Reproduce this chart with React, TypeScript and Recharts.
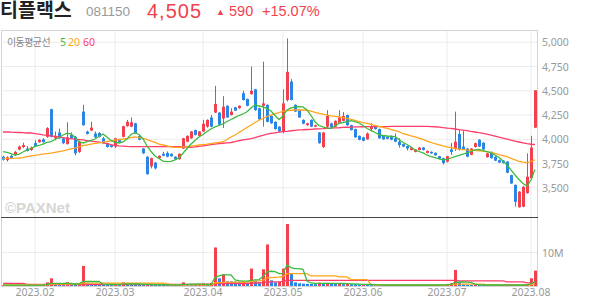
import React from 'react';
import { ComposedChart, Bar, Line, XAxis, YAxis, CartesianGrid } from 'recharts';

const UP = '#f2414d';
const DOWN = '#2b85e6';
const C_MA5 = '#3dbb3d';
const C_MA20 = '#ffa41c';
const C_MA60 = '#ff3d68';
const FONT = "'Noto Sans', sans-serif";
const KFONT = "'Noto Sans CJK KR', sans-serif";
const LFONT = "'Liberation Sans', 'Noto Sans CJK KR', sans-serif";

const MONTH_IDX = [8, 28, 50, 70, 90, 111, 132];
const MONTH_LABELS = ['2023.02', '2023.03', '2023.04', '2023.05', '2023.06', '2023.07', '2023.08'];
const PRICE_TICKS = [3500, 3750, 4000, 4250, 4500, 4750, 5000];
const VOL_TICKS = [10];

const OPEN = [
  3820, 3785, 3830, 3840, 3895, 3920, 3905, 3890, 3960, 3970,
  4000, 4025, 4310, 4010, 4070, 4010, 3950, 4045, 4025, 3870,
  4285, 4080, 4090, 4060, 4065, 4010, 3960, 3940, 3925, 4000,
  4025, 4135, 4130, 4165, 4035, 3905, 3820, 3720, 3760, 3805,
  3850, 3860, 3850, 3820, 3795, 3905, 3975, 4010, 4095, 4035,
  4080, 4130, 4225, 4275, 4275, 4215, 4345, 4250, 4330, 4320,
  4475, 4415, 4465, 4515, 4320, 4345, 4355, 4240, 4180, 4130,
  4075, 4405, 4595, 4355, 4300, 4200, 4145, 4200, 4130, 4070,
  3920, 4130, 4165, 4130, 4170, 4190, 4250, 4145, 4105, 4035,
  4020, 4000, 4105, 4135, 4105, 4035, 4025, 4035, 4010, 3975,
  3950, 3930, 3890, 3870, 3890, 3915, 3860, 3870, 3860, 3825,
  3805, 3770, 3895, 3905, 4055, 3925, 3905, 3840, 3920, 3995,
  3965, 3815, 3870, 3820, 3785, 3780, 3770, 3630, 3530, 3300,
  3305, 3445, 3600, 4120,
];
const HIGH = [
  3830, 3825, 3840, 3880, 3935, 3965, 3930, 3925, 3990, 4000,
  4010, 4125, 4315, 4080, 4110, 4020, 4175, 4070, 4035, 3985,
  4355, 4090, 4180, 4080, 4075, 4025, 3965, 3945, 4015, 4005,
  4140, 4200, 4225, 4170, 4045, 3910, 3825, 3810, 3765, 3835,
  3870, 3875, 3855, 3825, 3855, 4015, 4040, 4085, 4100, 4085,
  4200, 4205, 4250, 4550, 4280, 4445, 4350, 4320, 4335, 4350,
  4500, 4420, 4750, 4520, 4325, 4800, 4360, 4245, 4185, 4135,
  4515, 5040, 4620, 4360, 4305, 4205, 4170, 4205, 4150, 4075,
  4075, 4300, 4170, 4195, 4300, 4280, 4255, 4150, 4110, 4040,
  4025, 4070, 4165, 4140, 4110, 4040, 4030, 4040, 4060, 4010,
  3955, 3935, 3920, 3900, 3920, 3920, 3885, 3875, 3865, 3830,
  3810, 3830, 3960, 4285, 4095, 4085, 3910, 3910, 3965, 4000,
  3970, 3860, 3875, 3825, 3790, 3785, 3775, 3635, 3535, 3465,
  3520, 3855, 4035, 4505,
];
const LOW = [
  3780, 3770, 3795, 3830, 3885, 3910, 3875, 3880, 3920, 3965,
  3965, 4015, 4020, 3990, 4005, 3950, 3945, 4000, 3835, 3860,
  4140, 4050, 4085, 4015, 4020, 3955, 3915, 3915, 3910, 3960,
  4020, 4130, 4125, 4055, 3990, 3850, 3635, 3700, 3690, 3800,
  3825, 3815, 3820, 3790, 3790, 3900, 3970, 4005, 4040, 4030,
  4075, 4120, 4125, 4270, 4145, 4115, 4220, 4245, 4290, 4315,
  4400, 4340, 4460, 4295, 4200, 4130, 4175, 4160, 4100, 4075,
  4060, 4390, 4400, 4280, 4220, 4155, 4140, 4125, 4125, 3955,
  3910, 4110, 4120, 4125, 4165, 4185, 4140, 4090, 4015, 3990,
  3980, 3995, 4080, 4100, 4005, 3995, 4000, 3990, 3970, 3915,
  3920, 3885, 3885, 3865, 3885, 3885, 3855, 3850, 3830, 3795,
  3740, 3760, 3840, 3880, 3885, 3890, 3815, 3835, 3915, 3920,
  3890, 3810, 3800, 3775, 3755, 3750, 3650, 3540, 3305, 3295,
  3300, 3440, 3595, 4115,
];
const CLOSE = [
  3790, 3815, 3800, 3870, 3925, 3940, 3880, 3915, 3930, 3995,
  3970, 4115, 4025, 4035, 4010, 3960, 4020, 4010, 3855, 3975,
  4145, 4055, 4120, 4020, 4025, 3960, 3920, 3920, 4010, 3965,
  4135, 4180, 4175, 4060, 3995, 3855, 3640, 3805, 3700, 3830,
  3830, 3820, 3825, 3795, 3850, 4010, 4035, 4080, 4045, 4080,
  4160, 4200, 4130, 4365, 4150, 4335, 4225, 4285, 4295, 4345,
  4405, 4345, 4500, 4300, 4205, 4370, 4180, 4165, 4105, 4080,
  4370, 4695, 4405, 4285, 4225, 4160, 4165, 4130, 4145, 3960,
  4070, 4240, 4125, 4190, 4225, 4240, 4145, 4095, 4020, 3995,
  3985, 4060, 4135, 4105, 4010, 4000, 4005, 3995, 3975, 3940,
  3925, 3905, 3915, 3895, 3915, 3890, 3880, 3855, 3835, 3800,
  3755, 3825, 3870, 3975, 3890, 3895, 3820, 3905, 3960, 3925,
  3895, 3855, 3805, 3780, 3760, 3755, 3655, 3545, 3355, 3460,
  3510, 3615, 3915, 4505,
];
const MA5 = [
  3872, 3864, 3853, 3838, 3848, 3869, 3890, 3905, 3926, 3936,
  3951, 3967, 3977, 3998, 4018, 4044, 4060, 4055, 4021, 3972,
  3962, 3975, 3988, 4003, 4029, 4055, 4024, 3988, 3967, 3962,
  3972, 4003, 4049, 4070, 4049, 4003, 3931, 3874, 3828, 3802,
  3776, 3769, 3773, 3787, 3807, 3856, 3905, 3951, 3988, 4024,
  4049, 4080, 4106, 4127, 4142, 4158, 4183, 4204, 4225, 4245,
  4261, 4284, 4323, 4354, 4343, 4333, 4317, 4292, 4245, 4204,
  4240, 4302, 4323, 4333, 4336, 4333, 4302, 4245, 4181, 4142,
  4127, 4116, 4113, 4137, 4163, 4173, 4183, 4192, 4183, 4168,
  4142, 4111, 4091, 4070, 4049, 4039, 4034, 4031, 4027, 3998,
  3967, 3946, 3921, 3890, 3874, 3859, 3838, 3821, 3812, 3797,
  3787, 3792, 3807, 3821, 3833, 3848, 3859, 3874, 3890, 3895,
  3884, 3874, 3859, 3838, 3812, 3776, 3735, 3684, 3632, 3585,
  3544, 3518, 3580, 3690,
];
const MA20 = [
  3804, 3804, 3804, 3805, 3807, 3812, 3821, 3828, 3835, 3841,
  3848, 3852, 3857, 3865, 3873, 3881, 3890, 3900, 3910, 3923,
  3934, 3941, 3949, 3957, 3964, 3970, 3977, 3984, 3991, 3997,
  4003, 4010, 4018, 4024, 4018, 4010, 3998, 3982, 3967, 3951,
  3941, 3931, 3921, 3917, 3917, 3921, 3924, 3929, 3935, 3941,
  3945, 3949, 3956, 3962, 3968, 3975, 3998, 4024, 4044, 4070,
  4096, 4122, 4147, 4173, 4196, 4216, 4235, 4250, 4264, 4276,
  4287, 4295, 4299, 4302, 4302, 4302, 4297, 4290, 4278, 4268,
  4259, 4250, 4242, 4236, 4230, 4224, 4215, 4204, 4194, 4183,
  4172, 4163, 4154, 4142, 4132, 4124, 4113, 4101, 4090, 4078,
  4057, 4047, 4034, 4024, 4012, 3998, 3982, 3967, 3954, 3943,
  3931, 3921, 3913, 3905, 3898, 3894, 3890, 3887, 3885, 3882,
  3877, 3871, 3865, 3856, 3843, 3832, 3821, 3804, 3787, 3773,
  3764, 3759, 3770, 3789,
];
const MA60 = [
  4075, 4075, 4073, 4072, 4070, 4068, 4065, 4065, 4059, 4053,
  4046, 4041, 4036, 4030, 4024, 4016, 4010, 4006, 4001, 3997,
  3993, 3987, 3981, 3976, 3970, 3963, 3955, 3945, 3938, 3933,
  3930, 3927, 3925, 3924, 3924, 3924, 3924, 3924, 3924, 3924,
  3924, 3924, 3924, 3924, 3923, 3921, 3919, 3918, 3921, 3926,
  3931, 3937, 3944, 3951, 3955, 3959, 3963, 3967, 3975, 3985,
  3993, 4000, 4007, 4017, 4030, 4041, 4053, 4061, 4067, 4073,
  4078, 4082, 4088, 4092, 4096, 4098, 4101, 4103, 4106, 4108,
  4110, 4113, 4115, 4117, 4119, 4122, 4124, 4125, 4127, 4128,
  4129, 4130, 4131, 4131, 4131, 4131, 4131, 4134, 4134, 4134,
  4134, 4134, 4134, 4134, 4134, 4133, 4132, 4131, 4129, 4125,
  4121, 4116, 4112, 4106, 4100, 4095, 4089, 4081, 4075, 4068,
  4062, 4053, 4042, 4032, 4023, 4013, 4002, 3991, 3980, 3972,
  3964, 3956, 3949, 3946,
];
// volume in millions of shares
const VOLUME = [
  0.25, 0.3, 0.2, 0.28, 0.32, 0.27, 0.22, 0.26, 0.3, 0.25,
  0.3, 1.1, 2.3, 0.5, 0.45, 0.4, 1.1, 0.5, 0.45, 0.6,
  6.0, 0.8, 0.7, 0.5, 0.45, 0.4, 0.38, 0.35, 0.5, 0.4,
  1.1, 0.7, 0.6, 0.5, 0.45, 0.4, 0.5, 0.45, 0.4, 0.35,
  0.3, 0.28, 0.3, 0.25, 0.5, 1.1, 0.6, 0.5, 0.4, 0.5,
  0.8, 0.7, 0.9, 11.5, 2.3, 3.5, 1.4, 1.35, 1.3, 1.25,
  1.4, 1.0, 5.2, 1.6, 1.1, 5.0, 12.4, 1.7, 1.1, 1.2,
  5.2, 18.5, 3.8, 1.1, 0.8, 0.7, 0.65, 0.6, 0.55, 1.0,
  0.7, 0.95, 0.7, 0.6, 0.65, 0.55, 0.6, 0.55, 0.5, 0.45,
  0.5, 0.45, 0.35, 0.3, 0.28, 0.3, 0.25, 0.28, 0.3, 0.27,
  0.25, 0.28, 0.3, 0.26, 0.3, 0.28, 0.25, 0.27, 0.3, 0.28,
  0.3, 0.45, 0.8, 4.8, 1.1, 0.5, 0.35, 0.3, 0.33, 0.3,
  0.28, 0.3, 0.27, 0.3, 0.28, 0.32, 0.35, 0.4, 0.45, 0.35,
  0.4, 0.5, 2.3, 4.6,
];
const VMA5 = [
  0.25, 0.25, 0.25, 0.25, 0.25, 0.25, 0.25, 0.25, 0.25, 0.25,
  0.25, 0.45, 0.8, 0.8, 0.8, 0.8, 0.85, 0.75, 0.6, 0.6,
  1.35, 1.35, 1.35, 1.35, 1.35, 0.55, 0.5, 0.45, 0.45, 0.4,
  0.55, 0.6, 0.6, 0.6, 0.6, 0.5, 0.48, 0.45, 0.42, 0.4,
  0.38, 0.35, 0.32, 0.3, 0.32, 0.45, 0.5, 0.55, 0.55, 0.6,
  0.5, 0.45, 0.45, 2.5, 3.0, 3.3, 3.3, 3.3, 1.8, 1.6,
  1.5, 1.45, 1.7, 1.8, 1.9, 2.8, 4.2, 4.4, 4.3, 3.7,
  3.7, 6.3, 5.5, 5.2, 5.2, 5.0, 1.5, 0.9, 0.8, 0.8,
  0.8, 0.8, 0.8, 0.8, 0.78, 0.75, 0.7, 0.65, 0.6, 0.55,
  0.5, 0.48, 0.45, 0.4, 0.35, 0.3, 0.3, 0.3, 0.3, 0.3,
  0.3, 0.3, 0.3, 0.3, 0.3, 0.3, 0.3, 0.3, 0.3, 0.3,
  0.3, 0.35, 0.5, 1.1, 1.2, 1.2, 1.15, 1.1, 0.55, 0.35,
  0.3, 0.3, 0.3, 0.3, 0.3, 0.3, 0.3, 0.3, 0.3, 0.3,
  0.3, 0.3, 0.7, 1.3,
];
const VMA20 = [
  0.3, 0.3, 0.3, 0.3, 0.3, 0.3, 0.3, 0.3, 0.35, 0.38,
  0.4, 0.45, 0.55, 0.6, 0.6, 0.6, 0.6, 0.6, 0.6, 0.6,
  0.85, 0.85, 0.85, 0.85, 0.85, 0.85, 0.85, 0.85, 0.85, 0.85,
  0.85, 0.85, 0.85, 0.85, 0.85, 0.85, 0.85, 0.85, 0.85, 0.85,
  0.85, 0.6, 0.38, 0.38, 0.38, 0.38, 0.38, 0.38, 0.38, 0.38,
  0.38, 0.38, 0.38, 0.9, 1.0, 1.1, 1.15, 1.15, 1.15, 1.15,
  1.15, 1.15, 1.4, 1.45, 1.5, 1.75, 2.4, 2.5, 2.6, 2.65,
  2.9, 3.7, 3.7, 3.7, 3.7, 3.7, 3.7, 3.0, 3.0, 3.0,
  3.0, 3.0, 3.0, 3.0, 2.7, 2.7, 2.7, 1.9, 1.9, 1.9,
  1.9, 1.9, 0.5, 0.3, 0.3, 0.3, 0.3, 0.3, 0.3, 0.3,
  0.3, 0.3, 0.3, 0.3, 0.3, 0.3, 0.3, 0.3, 0.3, 0.3,
  0.3, 0.4, 0.45, 0.55, 0.55, 0.55, 0.55, 0.55, 0.55, 0.55,
  0.55, 0.35, 0.35, 0.35, 0.35, 0.35, 0.35, 0.35, 0.35, 0.35,
  0.35, 0.35, 0.45, 0.65,
];
const VMA60 = [
  0.8, 0.8, 0.8, 0.8, 0.8, 0.8, 0.5, 0.5, 0.5, 0.5,
  0.5, 0.5, 0.45, 0.45, 0.45, 0.45, 0.45, 0.45, 0.45, 0.45,
  0.45, 0.45, 0.45, 0.45, 0.45, 0.45, 0.45, 0.45, 0.45, 0.45,
  0.45, 0.45, 0.45, 0.45, 0.45, 0.45, 0.45, 0.45, 0.45, 0.45,
  0.45, 0.45, 0.45, 0.45, 0.45, 0.45, 0.45, 0.45, 0.45, 0.45,
  0.45, 0.45, 0.45, 0.65, 0.75, 0.75, 0.75, 0.75, 0.75, 0.75,
  0.75, 0.75, 0.85, 0.9, 0.9, 1.0, 1.2, 1.25, 1.25, 1.25,
  1.35, 1.65, 1.65, 1.65, 1.65, 1.65, 1.65, 1.65, 1.65, 1.65,
  1.65, 1.65, 1.65, 1.65, 1.65, 1.65, 1.65, 1.65, 1.65, 1.65,
  1.65, 1.65, 1.65, 1.65, 1.65, 1.65, 1.65, 1.65, 1.65, 1.65,
  1.65, 1.65, 1.65, 1.65, 1.65, 1.65, 1.65, 1.65, 1.65, 1.65,
  1.65, 1.65, 1.65, 1.65, 1.55, 1.55, 1.55, 1.55, 1.55, 1.55,
  1.55, 1.55, 1.55, 1.55, 1.55, 1.55, 1.25, 1.25, 1.25, 1.25,
  1.25, 0.95, 0.95, 0.95,
];

const rows = OPEN.map((open, i) => ({
  i,
  open,
  high: HIGH[i],
  low: LOW[i],
  close: CLOSE[i],
  range: [LOW[i], HIGH[i]],
  ma5: MA5[i],
  ma20: MA20[i],
  ma60: MA60[i],
  vol: VOLUME[i],
  vma5: VMA5[i],
  vma20: VMA20[i],
  vma60: VMA60[i],
  volUp: i === 0 || VOLUME[i] >= VOLUME[i - 1],
}));

function Candle(props: any) {
  const { x, y, width, height, payload } = props;
  if (x == null || !payload) return null;
  const { open, close, high, low } = payload;
  const top = Math.min(y, y + height);
  const h = Math.abs(height);
  const span = high - low || 1;
  const py = (v: number) => top + ((high - v) / span) * h;
  const color = close >= open ? UP : DOWN;
  const cx = Math.round(x + width / 2 - 0.5);
  const bTop = py(Math.max(open, close));
  const bBot = py(Math.min(open, close));
  return (
    <g>
      <rect x={cx} y={top} width={1} height={Math.max(h, 1)} fill={color} />
      <rect x={cx - 1} y={bTop} width={3} height={Math.max(bBot - bTop, 1)} fill={color} />
    </g>
  );
}

function VolBar(props: any) {
  const { x, y, width, height, payload } = props;
  if (x == null || !payload) return null;
  const cx = Math.round(x + width / 2 - 0.5);
  const top = Math.min(y, y + height);
  return <rect x={cx - 1} y={top} width={3} height={Math.abs(height)} fill={payload.volUp ? UP : DOWN} />;
}

const RightTick = (fmt: (v: number) => string) => (p: any) => (
  <text x={p.x} y={p.y} dy={4} fill="#999" fontSize={10.5} fontFamily={FONT} textAnchor="start">
    {fmt(p.payload.value)}
  </text>
);

const line = (key: string, color: string) => (
  <Line dataKey={key} stroke={color} strokeWidth={1.3} dot={false} activeDot={false} isAnimationActive={false} />
);

// header text: line-height = Liberation Sans ascent+descent, so baseline = top + 0.905 * size
const head = (left: number, baseline: number, size: number, color: string, extra: React.CSSProperties = {}) => ({
  position: 'absolute' as const,
  left,
  top: baseline - 0.905 * size,
  fontSize: size,
  lineHeight: `${size * 1.117}px`,
  color,
  fontFamily: LFONT,
  whiteSpace: 'nowrap' as const,
  ...extra,
});

export default function App() {
  return (
    <div style={{ position: 'absolute', left: 0, top: 0, width: 594, height: 304, background: '#fff', overflow: 'hidden' }}>
      <div style={{ position: 'absolute', left: 0, top: 31 }}>
        <ComposedChart width={594} height={186} data={rows} margin={{ top: 0, right: 0, bottom: 0, left: 1 }} barCategoryGap={0} barGap={0}>
          <CartesianGrid stroke="#ececec" verticalValues={MONTH_IDX} horizontalValues={PRICE_TICKS} />
          <XAxis dataKey="i" type="category" hide />
          <YAxis
            orientation="right"
            width={57}
            domain={[3199, 5116]}
            allowDataOverflow
            ticks={PRICE_TICKS}
            axisLine={false}
            tickLine={false}
            tickSize={3}
            tickMargin={2}
            tick={RightTick((v) => v.toLocaleString('en-US'))}
          />
          <Bar dataKey="range" shape={<Candle />} isAnimationActive={false} />
          {line('ma60', C_MA60)}
          {line('ma20', C_MA20)}
          {line('ma5', C_MA5)}
        </ComposedChart>
      </div>
      <div style={{ position: 'absolute', left: 0, top: 218 }}>
        <ComposedChart width={594} height={86} data={rows} margin={{ top: 0, right: 0, bottom: 0, left: 1 }} barCategoryGap={0} barGap={0}>
          <CartesianGrid stroke="#ececec" verticalValues={MONTH_IDX} horizontalValues={VOL_TICKS} />
          <XAxis
            dataKey="i"
            type="category"
            ticks={MONTH_IDX}
            interval={0}
            height={18}
            axisLine={false}
            tickLine={false}
            tickSize={0}
            tickMargin={3}
            tick={{ fill: '#999', fontSize: 10.5, fontFamily: FONT }}
            tickFormatter={(v) => MONTH_LABELS[MONTH_IDX.indexOf(v)]}
          />
          <YAxis
            orientation="right"
            width={57}
            domain={[0, 20.3]}
            allowDataOverflow
            ticks={VOL_TICKS}
            axisLine={false}
            tickLine={false}
            tickSize={3}
            tickMargin={2}
            tick={RightTick((v) => `${v}M`)}
          />
          <Bar dataKey="vol" shape={<VolBar />} isAnimationActive={false} />
          {line('vma60', C_MA60)}
          {line('vma20', C_MA20)}
          {line('vma5', C_MA5)}
        </ComposedChart>
      </div>
      {/* frame lines */}
      <div style={{ position: 'absolute', left: 1, top: 30, width: 537, height: 1, background: '#d4d4d4' }} />
      <div style={{ position: 'absolute', left: 1, top: 30, width: 1, height: 257, background: '#d4d4d4' }} />
      <div style={{ position: 'absolute', left: 537, top: 30, width: 1, height: 257, background: '#d4d4d4' }} />
      <div style={{ position: 'absolute', left: 1, top: 217, width: 537, height: 1, background: '#444' }} />
      <div style={{ position: 'absolute', left: 1, top: 286, width: 537, height: 1, background: '#d4d4d4' }} />
      {/* header */}
      <div style={head(0, 17.7, 19.5, '#222', { fontWeight: 700 })}>티플랙스</div>
      <div style={head(86, 16.3, 13.5, '#999')}>081150</div>
      <div style={head(147, 18.1, 20, UP, { letterSpacing: 1 })}>4,505</div>
      <div style={head(216, 15.5, 9, UP, { fontFamily: FONT, lineHeight: '9px', top: 7 })}>▲</div>
      <div style={head(229, 16.3, 14.5, UP)}>590</div>
      <div style={head(262, 16.3, 14.5, UP)}>+15.07%</div>
      <svg width={594} height={304} style={{ position: 'absolute', left: 0, top: 0, pointerEvents: 'none' }}>
        <text x={7} y={45.5} fontSize={10} fill="#888" fontFamily={KFONT} letterSpacing={-0.6}>이동평균선</text>
        <text x={60} y={45.5} fontSize={10.5} fill={C_MA5} fontFamily={FONT}>5</text>
        <text x={68} y={45.5} fontSize={10.5} fill={C_MA20} fontFamily={FONT}>20</text>
        <text x={83} y={45.5} fontSize={10.5} fill={C_MA60} fontFamily={FONT}>60</text>
        <text x={5} y={213} fontSize={15} fontWeight={700} fill="#d6d6d6" fontFamily="'Liberation Sans', sans-serif">©PAXNet</text>
      </svg>
    </div>
  );
}
